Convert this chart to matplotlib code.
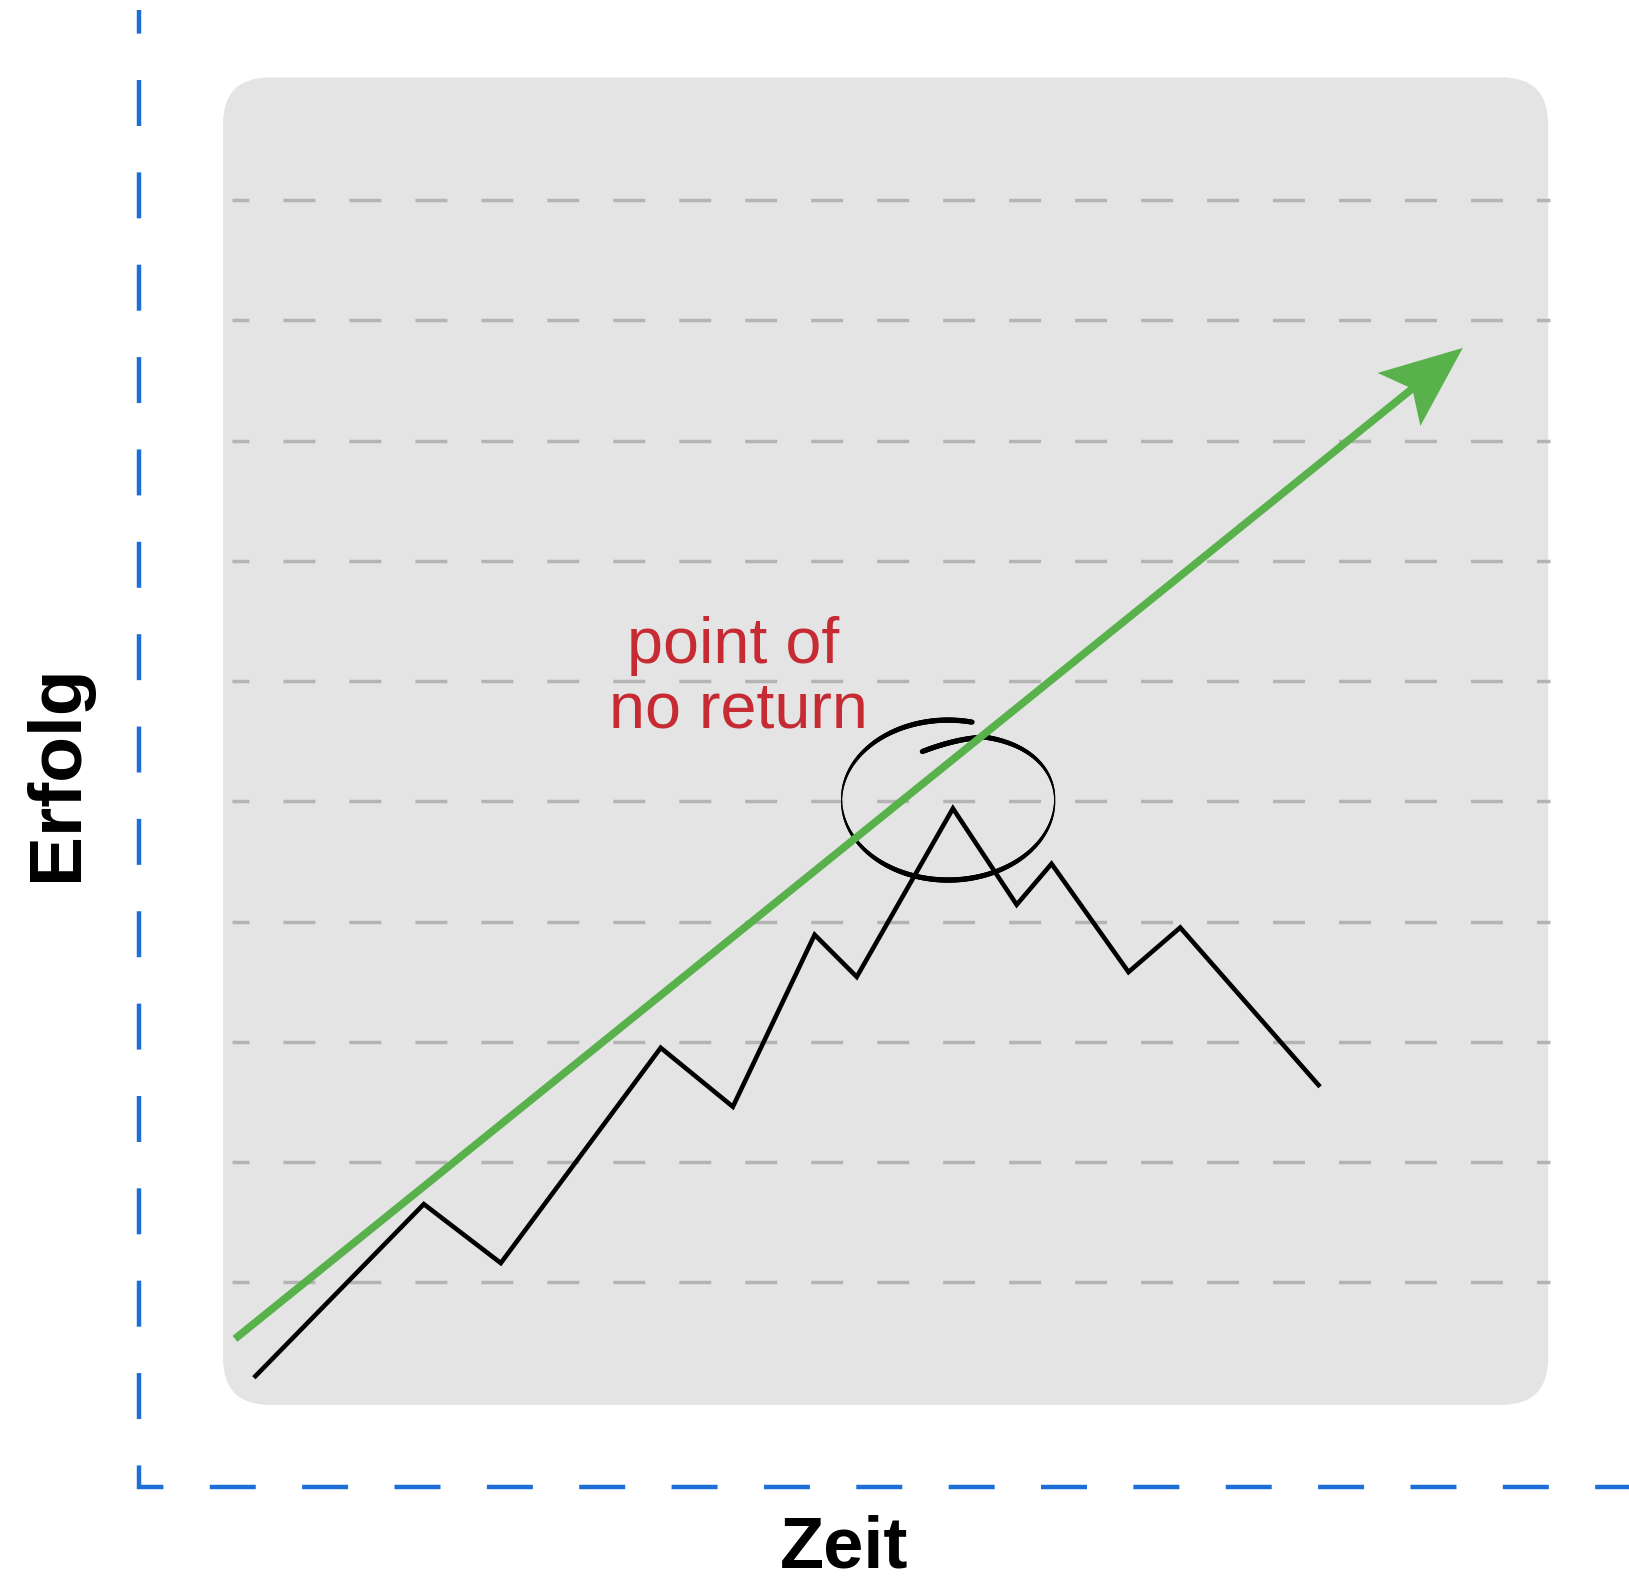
import numpy as np
import matplotlib
matplotlib.use('Agg')
import matplotlib.pyplot as plt
from matplotlib.patches import FancyBboxPatch, Polygon
from matplotlib.collections import LineCollection

plt.rcParams['font.family'] = ['Liberation Sans', 'DejaVu Sans']
plt.rcParams['lines.scale_dashes'] = False

# Daten: Erfolg über die Zeit (Zickzack) und der gerade Trendpfeil
zeit = [0.27, 1.67, 2.31, 3.64, 4.24, 4.92, 5.27, 6.07, 6.60, 6.89, 7.53, 7.96, 9.11]
erfolg = [0.22, 1.65, 1.16, 2.95, 2.46, 3.89, 3.54, 4.94, 4.14, 4.48, 3.58, 3.95, 2.64]
trend_x = [0.10, 10.31]
trend_y = [0.53, 8.77]
grid_y = [1, 2, 3, 4, 5, 6, 7, 8, 9, 10]
label_lines = ['point of', 'no return']
label_x = [4.24, 4.29]
label_y = [6.15, 5.61]
# Kreis um den Wendepunkt (Mitte, Radien)
circle_cx, circle_cy, circle_rx = 6.03, 5.01, 0.886
circle_deg = [77, 350, 430, 464]
circle_ry = [0.665, 0.665, 0.557, 0.416]

blue = '#1b6fd6'
green = '#58b14b'
red = '#c62a32'

fig = plt.figure(figsize=(16.29, 15.86), dpi=100)
ax = fig.add_axes([0.08533, 0.06223, 0.91467, 0.93146])
ax.set_xlim(-0.6985, 11.692)
ax.set_ylim(-0.7048, 11.580)
ax.axis('off')

# grauer Hintergrund mit runden Ecken
box = FancyBboxPatch((0, -0.02), 11.02, 11.04, boxstyle='round,pad=0,rounding_size=0.39',
	facecolor='#e4e4e4', edgecolor='none', zorder=0)
ax.add_patch(box)

# gestrichelte Hilfslinien
ax.hlines(grid_y, 0.075, 11.035, colors='#b4b4b4', linewidth=2.5,
	linestyles=[(10.8, (23.0, 24.5))], zorder=1)

# Achsen als ein gestrichelter Pfad (L-Form)
ax.plot([0, 0, 1], [1, 0, 0], transform=ax.transAxes, clip_on=False, color=blue,
	linewidth=3.2, linestyle=(16.1, (33.1, 33.4)), dash_joinstyle='miter', zorder=1)

# Kreis (handgezeichnet, läuft etwas nach innen aus)
deg = np.linspace(circle_deg[0], circle_deg[-1], 500)
t = np.radians(deg)
ry = np.interp(deg, circle_deg, circle_ry)
cx_pts = circle_cx + circle_rx * np.cos(t)
cy_pts = circle_cy + ry * np.sin(t)
pts = np.column_stack([cx_pts, cy_pts]).reshape(-1, 1, 2)
segs = np.concatenate([pts[:-1], pts[1:]], axis=1)
widths = 0.8 + 3.0 * np.abs(np.sin(t[:-1]))
ax.add_collection(LineCollection(segs, linewidths=widths, colors='black', capstyle='round', zorder=2))

# Zickzack-Linie
ax.plot(zeit, erfolg, color='black', linewidth=3.3, solid_joinstyle='miter', zorder=3)

# grüner Pfeil
d = np.array([trend_x[1] - trend_x[0], trend_y[1] - trend_y[0]])
u = d / np.linalg.norm(d)
n = np.array([-u[1], u[0]])
tip = np.array([trend_x[1], trend_y[1]])
head_len, head_half, notch = 0.682, 0.283, 0.54
shaft_end = tip - (notch - 0.03) * u
ax.plot([trend_x[0], shaft_end[0]], [trend_y[0], shaft_end[1]], color=green,
	linewidth=5.5, solid_capstyle='butt', zorder=4)
head = [tip, tip - head_len * u + head_half * n, tip - notch * u, tip - head_len * u - head_half * n]
ax.add_patch(Polygon(head, closed=True, facecolor=green, edgecolor='none', zorder=4))

# Beschriftung
for txt, x, y in zip(label_lines, label_x, label_y):
	ax.text(x, y, txt, ha='center', va='baseline', fontsize=46.5, color=red, zorder=5)

fig.text(0.0475, 0.5129, 'Erfolg', rotation=90, rotation_mode='anchor', ha='center', va='baseline',
	fontsize=54, fontweight='bold', color='black')
fig.text(0.518, 0.002, 'Zeit', ha='center', va='bottom', fontsize=52, fontweight='bold', color='black')

fig.savefig('out.png', dpi=100)
